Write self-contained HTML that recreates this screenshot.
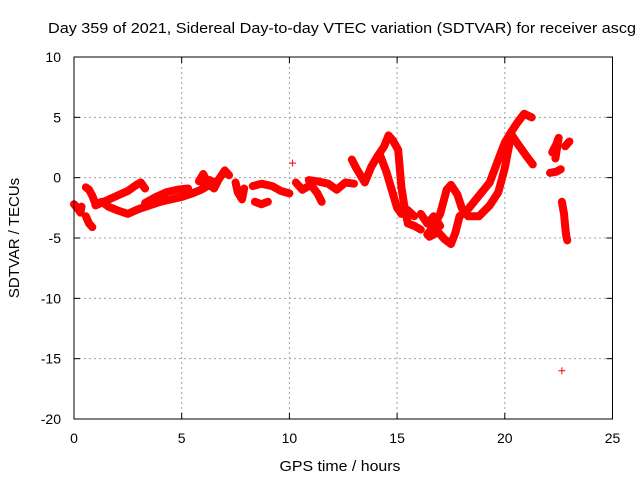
<!DOCTYPE html>
<html><head><meta charset="utf-8"><style>
body{margin:0;background:#fff;}
svg{display:block;font-family:"Liberation Sans",sans-serif;}
</style></head><body>
<svg id="chart" width="640" height="480" viewBox="0 0 640 480">
<rect x="0" y="0" width="640" height="480" fill="#fff"/>
<g id="grid"></g><g id="marks"></g><g id="axes"></g>
</svg>
<script>
const xTicks=[0,5,10,15,20,25];
const yTicks=[10,5,0,-5,-10,-15,-20];
const trackStart=[[0,-2.2],[0.15,-2.5],[0.3,-2.9],[0.35,-2.4]];
const trackDip=[[0.55,-3.2],[0.7,-3.8],[0.85,-4.1]];
const trackLow=[[0.55,-0.8],[0.7,-1.0],[0.85,-1.5],[1.0,-2.2],[1.3,-2.0],[1.6,-2.4],[2.0,-2.7],[2.5,-3.0],[3.0,-2.6],[3.5,-2.3],[4.0,-2.0],[4.5,-1.8],[5.0,-1.6],[5.5,-1.3],[5.9,-1.0],[6.3,-0.6]];
const trackUp=[[1.0,-2.3],[1.5,-1.9],[2.0,-1.5],[2.5,-1.1],[2.9,-0.6],[3.1,-0.4],[3.3,-0.9]];
const trackMid=[[3.3,-2.1],[3.8,-1.6],[4.3,-1.2],[4.8,-1.0],[5.3,-0.9]];
const cl6=[[5.8,-0.3],[6.0,0.3],[6.2,-0.4],[6.5,-0.9],[6.7,-0.2],[7.0,0.6],[7.2,0.2]];
const cl6b=[[6.0,-0.8],[6.3,-0.2],[6.5,-0.4]];
const cl7=[[7.5,-0.4],[7.6,-1.2],[7.8,-1.8],[7.9,-0.9]];
const cl8=[[8.3,-0.7],[8.7,-0.5],[9.2,-0.7],[9.6,-1.1],[10.0,-1.3]];
const cl8b=[[8.4,-2.0],[8.7,-2.2],[9.0,-2.0]];
const cl10=[[10.3,-0.4],[10.6,-1.0],[11.0,-0.6],[11.3,-1.3],[11.5,-2.0]];
const cl10b=[[10.9,-0.2],[11.3,-0.3],[11.8,-0.5],[12.2,-1.0],[12.6,-0.4],[13.0,-0.5]];
const spike10=[[10.15,1.2]];
const rise14=[[12.9,1.5],[13.1,0.8],[13.5,-0.4],[13.8,0.9],[14.1,1.8],[14.4,2.6],[14.6,3.5],[14.8,3.1],[15.05,2.3],[15.2,-0.8],[15.35,-2.5],[15.5,-3.8],[15.8,-4.0],[16.1,-4.3]];
const fall14=[[14.2,1.9],[14.5,0.5],[14.75,-1.0],[15.0,-2.5],[15.2,-3.0],[15.5,-2.7],[15.8,-3.2]];
const loop17=[[16.4,-4.7],[16.7,-4.0],[17.0,-3.0],[17.3,-1.0],[17.5,-0.6],[17.8,-1.4],[18.0,-2.5],[18.3,-3.2],[18.8,-3.2],[19.3,-2.3],[19.7,-1.2],[20.0,0.8],[20.3,3.6],[20.6,2.8],[21.0,1.8],[21.3,1.1]];
const loop17b=[[16.5,-4.9],[16.9,-4.5],[17.2,-5.1],[17.5,-5.5],[17.7,-4.6],[17.9,-3.2],[18.3,-2.6],[18.8,-1.5],[19.3,-0.4],[19.7,1.5],[20.0,2.9],[20.3,3.8],[20.6,4.6],[20.9,5.3],[21.25,5.0]];
const cl16=[[16.1,-3.0],[16.4,-3.8],[16.7,-3.2],[17.0,-4.0]];
const cl22=[[22.2,2.1],[22.4,2.8],[22.5,3.3],[22.35,1.6]];
const cl22b=[[22.1,0.4],[22.4,0.5],[22.6,0.7]];
const cl23=[[22.8,2.6],[23.0,3.0]];
const drop23=[[22.65,-2.0],[22.75,-3.0],[22.8,-4.0],[22.85,-4.8],[22.9,-5.2]];
const outlier=[[22.65,-16.0]];
const series=[trackStart,trackDip,trackLow,trackUp,trackMid,cl6,cl6b,cl7,cl8,cl8b,cl10,cl10b,spike10,rise14,fall14,loop17,loop17b,cl16,cl22,cl22b,cl23,drop23,outlier];

const L=74,R=612.5,T=57,B=419;
const X=h=>L+(h-0)/25*(R-L);
const Y=v=>T+(10-v)/30*(B-T);
const NS='http://www.w3.org/2000/svg';
function mk(tag,attrs,parent){const e=document.createElementNS(NS,tag);for(const k in attrs)e.setAttribute(k,attrs[k]);parent.appendChild(e);return e;}
const grid=document.getElementById('grid'),marks=document.getElementById('marks'),axes=document.getElementById('axes');
xTicks.forEach(t=>{if(t>0&&t<25){const l=mk('line',{x1:X(t),x2:X(t),y1:T,y2:B,stroke:'#a0a0a0','stroke-dasharray':'2,3'},grid);

}});
yTicks.forEach(t=>{if(t<10&&t>-20){const l=mk('line',{x1:L,x2:R,y1:Y(t),y2:Y(t),stroke:'#a0a0a0','stroke-dasharray':'2,3'},grid);

}});
series.forEach(s=>{
 if(s.length>1){const p=mk('polyline',{points:s.map(d=>X(d[0])+','+Y(d[1])).join(' '),fill:'none',stroke:'#ff0000','stroke-width':8,'stroke-linejoin':'round','stroke-linecap':'round'},marks);
 
 }
 s.forEach(d=>{const x=X(d[0]),y=Y(d[1]);
  const m=mk('path',{d:`M${x-3.5},${y}H${x+3.5}M${x},${y-3.5}V${y+3.5}`,stroke:'#ff0000','stroke-width':1},marks);
  
  });
});
const fr=mk('rect',{x:L,y:T,width:R-L,height:B-T,fill:'none',stroke:'#000','stroke-width':1},axes);


xTicks.forEach(t=>{mk('line',{x1:X(t),x2:X(t),y1:B,y2:B-6,stroke:'#000'},axes);mk('line',{x1:X(t),x2:X(t),y1:T,y2:T+6,stroke:'#000'},axes);
 const tx=mk('text',{x:X(t),y:443,'text-anchor':'middle','font-size':14,fill:'#000'},axes);tx.textContent=t;
 
 });
yTicks.forEach(t=>{mk('line',{x1:L,x2:L+6,y1:Y(t),y2:Y(t),stroke:'#000'},axes);mk('line',{x1:R,x2:R-6,y1:Y(t),y2:Y(t),stroke:'#000'},axes);
 const tx=mk('text',{x:61,y:Y(t)+5,'text-anchor':'end','font-size':14,fill:'#000'},axes);tx.textContent=t;
 
 });
</script>
<svg style="position:absolute;left:0;top:0" width="640" height="480">
<text x="48" y="33" font-size="15" textLength="588" lengthAdjust="spacingAndGlyphs" fill="#000" font-family="Liberation Sans, sans-serif">Day 359 of 2021, Sidereal Day-to-day VTEC variation (SDTVAR) for receiver ascg</text>
<text x="340" y="471" font-size="15" textLength="121" lengthAdjust="spacingAndGlyphs" text-anchor="middle" fill="#000" font-family="Liberation Sans, sans-serif">GPS time / hours</text>
<text transform="translate(19,238) rotate(-90)" font-size="15" text-anchor="middle" fill="#000" font-family="Liberation Sans, sans-serif">SDTVAR / TECUs</text>
</svg>
</body></html>
